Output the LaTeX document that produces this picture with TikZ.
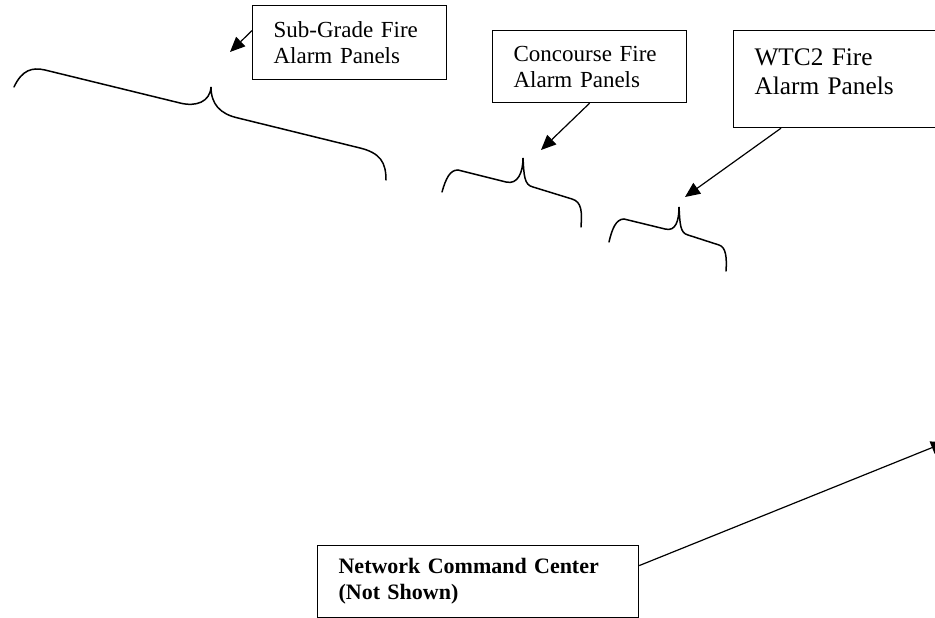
\documentclass[tikz,border=0pt]{standalone}
\usepackage{fontspec}
\setmainfont{Liberation Serif}
\usepackage{tikz}
\usetikzlibrary{arrows.meta}
\tikzset{
    panel/.style={rectangle, draw=black, line width=1.2pt, align=left, anchor=north west, inner xsep=21pt, inner ysep=0pt},
    pointer/.style={-{Triangle[length=15pt, width=13pt]}, line width=1.2pt},
    curly/.style={line width=1.5pt, line cap=round}
}

\begin{document}
\begin{tikzpicture}[
        x=1pt, y=-1pt,
        small/.style={font=\fontsize{23}{26}\selectfont},
        large/.style={font=\fontsize{25.3}{29}\selectfont},
        bold/.style={font=\fontsize{22}{26}\selectfont\bfseries}
    ]
    \useasboundingbox (0,0) rectangle (935,618);
    \clip (0,0) rectangle (935,618);

    % Label boxes
    \node[panel, small, text width=152pt, minimum height=74pt] (sub) at (252,5) {Sub-Grade Fire\\Alarm Panels};
    \node[panel, small, text width=152pt, minimum height=72pt] (conc) at (492,30) {Concourse Fire\\Alarm Panels};
    \node[panel, large, text width=188pt, minimum height=97pt] (wtc) at (733,30) {WTC2 Fire\\Alarm Panels\\[-14pt]\mbox{}};
    \node[panel, bold, inner xsep=21pt, text width=279pt, minimum height=72pt] (ncc) at (317,545) {Network Command Center\\(Not Shown)};

    % Braces
    \draw[curly] (14,87) .. controls (22,70) and (32,67) .. (45,70) -- (180,103)
        .. controls (196,107) and (210,102) .. (211,87)
        .. controls (211,104) and (220,114) .. (238,118) -- (360,148)
        .. controls (380,153) and (386,162) .. (386,180);
    \draw[curly] (442,192) .. controls (446,178) and (450,170) .. (458,170) -- (506,182)
        .. controls (518,185) and (523,172) .. (523,158)
        .. controls (524,175) and (524,185) .. (533,187) -- (572,199)
        .. controls (582,202) and (582,212) .. (581,227);
    \draw[curly] (609,242) .. controls (612,229) and (616,219) .. (624,219) -- (665,229)
        .. controls (676,232) and (679,220) .. (679,207)
        .. controls (680,224) and (680,233) .. (688,235) -- (719,245)
        .. controls (726,247) and (727,258) .. (726,271);

    % Arrow ends
    \coordinate (subTip) at (230,52);
    \coordinate (concTip) at (541,150);
    \coordinate (wtcTip) at (685,197);
    \coordinate (nccTip) at (946,442);

    % Connections
    \draw[pointer] ([yshift=12pt]sub.west) -- (subTip);
    \draw[pointer] (conc.south) -- (concTip);
    \draw[pointer] ([xshift=48pt]wtc.south west) -- (wtcTip);
    \draw[pointer] ([yshift=16pt]ncc.east) -- (nccTip);

\end{tikzpicture}
\end{document}
